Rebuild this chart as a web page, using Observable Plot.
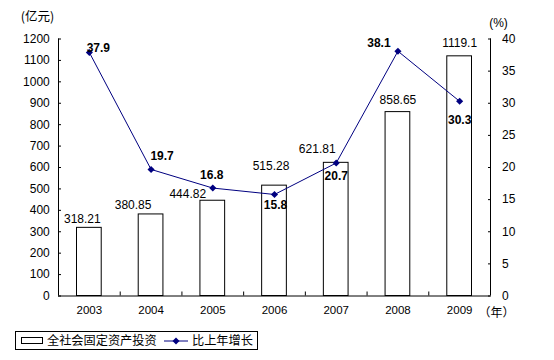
<!DOCTYPE html>
<html>
<head>
<meta charset="utf-8">
<script src="https://cdn.jsdelivr.net/npm/d3@7"></script>
<script src="https://cdn.jsdelivr.net/npm/@observablehq/plot@0.6"></script>
<style>
  html, body { margin: 0; padding: 0; background: #fff; }
  #wrap { position: relative; width: 554px; height: 360px; font-family: "Liberation Sans", Arial, "Noto Sans CJK SC", sans-serif; }
  #legend { position: absolute; left: 15px; top: 331px; width: 241px; height: 17px; border: 1px solid #000; font-family: "Noto Sans CJK SC", sans-serif; font-size: 12.2px; line-height: 17px; white-space: nowrap; }
  #legend .sw { position: absolute; left: 5px; top: 5px; width: 20px; height: 5px; border: 1px solid #000; background: #fff; }
  #legend .t1 { position: absolute; left: 31px; top: 0; }
  #legend svg { position: absolute; left: 147px; top: 3px; }
  #legend .t2 { position: absolute; left: 176px; top: 0; }
</style>
</head>
<body>
<div id="wrap"></div>
<script>
// ---- data ----
const years = [2003, 2004, 2005, 2006, 2007, 2008, 2009];
const investment = [318.21, 380.85, 444.82, 515.28, 621.81, 858.65, 1119.1]; // 亿元
const growth = [37.9, 19.7, 16.8, 15.8, 20.7, 38.1, 30.3]; // %
const leftTicks = [0, 100, 200, 300, 400, 500, 600, 700, 800, 900, 1000, 1100, 1200];
const rightTicks = [0, 5, 10, 15, 20, 25, 30, 35, 40];
const seriesNames = ["全社会固定资产投资", "比上年增长"];

// label placement (layout only)
const invLabelOffsets = [[-7, -9], [-18, -9.5], [-25, -7], [-3.5, -19.5], [-19, -14], [0, -12], [0, -13.5]];
const growthLabelOffsets = [[9, -4.5], [11, -13], [-1, -13], [1, 11], [0, 13], [-19, -8], [0, 19]];

const ratio = 1200 / 40; // secondary axis mapping
const rows = years.map((y, i) => ({year: y, inv: investment[i], g: growth[i], gy: growth[i] * ratio}));
const boundaries = years.slice(0, -1).map(y => y + 0.5);
const xDomain = [years[0] - 0.5, years[years.length - 1] + 0.5];

const font = "Liberation Sans, Arial, sans-serif";

const marks = [
  // bars
  Plot.rectY(rows, {x1: d => d.year - 0.5, x2: d => d.year + 0.5, y: "inv", fill: "white", stroke: "black", strokeWidth: 1, insetLeft: 18.5, insetRight: 18.5}),
  // frame lines
  Plot.ruleY([0], {stroke: "black"}),
  Plot.ruleX([xDomain[0]], {y1: 0, y2: 1200, stroke: "black"}),
  Plot.ruleX([xDomain[1]], {y1: 0, y2: 1200, stroke: "black"}),
  // axes
  Plot.axisY({ticks: leftTicks, tickSize: -3, tickPadding: 11.7, fontSize: 12, tickFormat: d => String(d), label: null}),
  Plot.axisY({anchor: "right", ticks: rightTicks.map(v => v * ratio), tickFormat: d => String(Math.round(d / ratio)), tickSize: -3, tickPadding: 14.5, fontSize: 12, label: null}),
  Plot.axisX({ticks: boundaries, tickSize: -4, text: null, label: null}),
  Plot.axisX({ticks: years, tickSize: 0, tickPadding: 10, fontSize: 11.5, tickFormat: d => String(d), label: null}),
  // line
  Plot.line(rows, {x: "year", y: "gy", stroke: "#000080", strokeWidth: 1}),
  Plot.dot(rows, {x: "year", y: "gy", symbol: "diamond2", r: 3.2, fill: "#000080", stroke: "none"}),
  // unit labels
  Plot.text(["(亿元)"], {frameAnchor: "top-left", dx: -21, dy: -22.5, fontSize: 12.5, fontFamily: "Noto Sans CJK SC, sans-serif", lineAnchor: "middle", textAnchor: "middle"}),
  Plot.text(["(%)"], {frameAnchor: "top-right", dx: 8, dy: -15.5, fontSize: 12, lineAnchor: "middle", textAnchor: "middle"}),
  Plot.text(["（年）"], {frameAnchor: "bottom-right", dx: 6, dy: 17.5, fontSize: 12, fontFamily: "Noto Sans CJK SC, sans-serif", lineAnchor: "middle", textAnchor: "middle"})
];

rows.forEach((d, i) => {
  marks.push(Plot.text([d], {x: "year", y: "inv", text: r => String(r.inv), dx: invLabelOffsets[i][0], dy: invLabelOffsets[i][1], fontSize: 12, lineAnchor: "middle", textAnchor: "middle"}));
  marks.push(Plot.text([d], {x: "year", y: "gy", text: r => r.g.toFixed(1), dx: growthLabelOffsets[i][0], dy: growthLabelOffsets[i][1], fontSize: 12, fontWeight: "bold", lineAnchor: "middle", textAnchor: "middle"}));
});

const chart = Plot.plot({
  width: 554,
  height: 325,
  marginLeft: 58,
  marginRight: 64,
  marginTop: 38.5,
  marginBottom: 29.5,
  style: {fontFamily: font, fontSize: "12px", color: "black", background: "white", overflow: "visible"},
  x: {type: "linear", domain: xDomain, axis: null},
  y: {domain: [0, 1200], axis: null},
  marks
});

const wrap = document.getElementById("wrap");
wrap.appendChild(chart);

const legend = document.createElement("div");
legend.id = "legend";
legend.innerHTML = `<span class="sw"></span><span class="t1">${seriesNames[0]}</span>` +
  `<svg width="26" height="12"><line x1="1" y1="6" x2="25" y2="6" stroke="#000080" stroke-width="1"/><path d="M13,2.5L16.5,6L13,9.5L9.5,6Z" fill="#000080"/></svg>` +
  `<span class="t2">${seriesNames[1]}</span>`;
wrap.appendChild(legend);
</script>
</body>
</html>
